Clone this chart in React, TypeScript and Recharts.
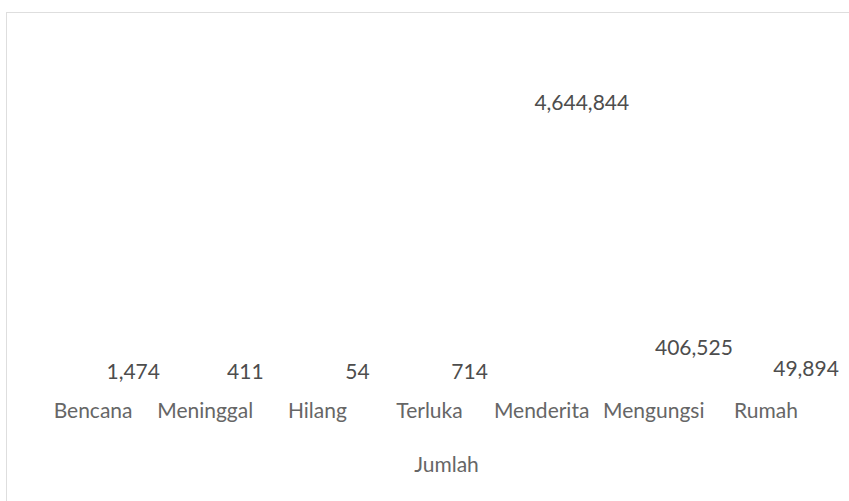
import { BarChart, Bar, XAxis, YAxis, LabelList } from 'recharts';

const categories = ['Bencana', 'Meninggal', 'Hilang', 'Terluka', 'Menderita', 'Mengungsi', 'Rumah'];
const jumlah = [1474, 411, 54, 714, 4644844, 406525, 49894];

const data = categories.map((name, i) => ({ name, value: jumlah[i] }));

const FONT = 'Lato, "Open Sans", sans-serif';

export default function App() {
  const formatValue = (v: number) => v.toLocaleString('en-US');

  return (
    <div
      style={{
        position: 'absolute',
        left: 0,
        top: 0,
        width: 849,
        height: 501,
        overflow: 'hidden',
        background: '#fff',
      }}
    >
      <div
        style={{
          position: 'absolute',
          left: 6,
          top: 12,
          width: 900,
          height: 600,
          border: '1px solid #dedede',
          boxSizing: 'border-box',
        }}
      />
      <div style={{ position: 'absolute', left: 0, top: 0 }}>
        <BarChart
          width={849}
          height={501}
          data={data}
          margin={{ top: 126, right: 27, left: 37, bottom: 21 }}
        >
          <XAxis
            dataKey="name"
            axisLine={false}
            tickLine={false}
            tickSize={0}
            tickMargin={8}
            interval={0}
            height={85}
            tick={{ fill: '#666666', fontSize: 21, fontFamily: FONT }}
            label={{
              value: 'Jumlah',
              position: 'insideBottom',
              offset: 8,
              dx: 17,
              fill: '#666666',
              fontSize: 21,
              fontFamily: FONT,
            }}
          />
          <YAxis hide domain={[0, 4644844]} />
          <Bar dataKey="value" fill="transparent" isAnimationActive={false}>
            <LabelList
              dataKey="value"
              position="top"
              offset={16}
              dx={40}
              formatter={formatValue}
              fill="#4d4d4d"
              fontSize={21}
              fontFamily={FONT}
            />
          </Bar>
        </BarChart>
      </div>
    </div>
  );
}
